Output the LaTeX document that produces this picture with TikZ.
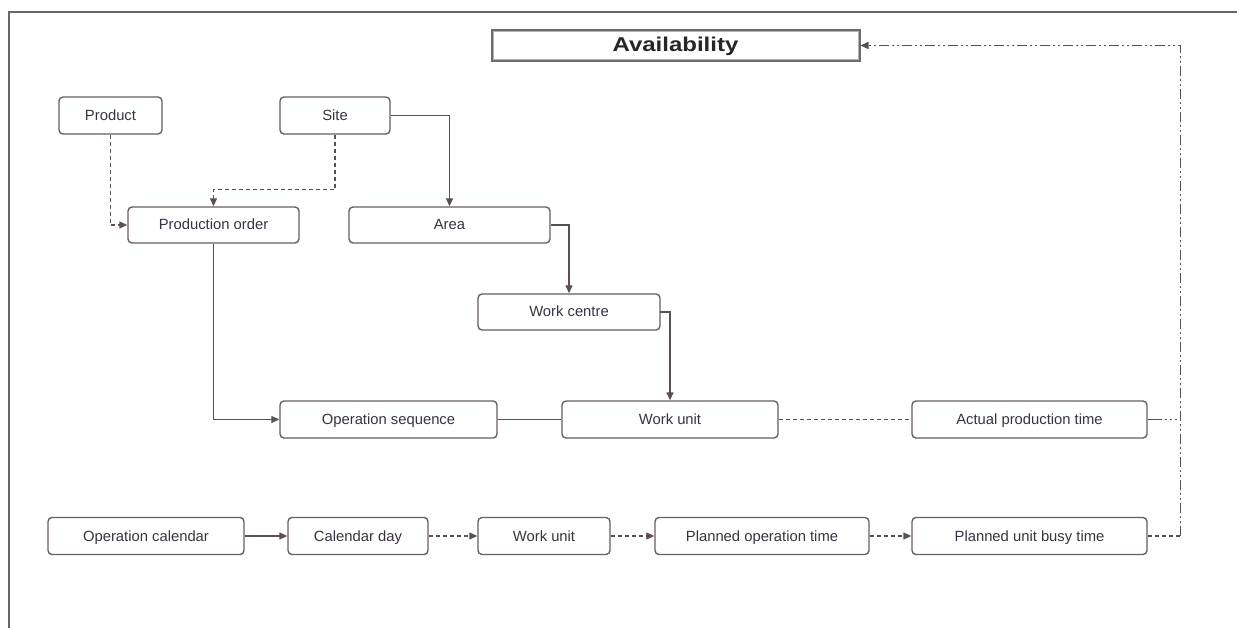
\documentclass[tikz,border=0pt]{standalone}
\usepackage{fontspec}
\setmainfont{Liberation Sans}
\usetikzlibrary{arrows.meta,calc}
\definecolor{edge}{HTML}{6A5E5E}
\definecolor{ink}{HTML}{3A3242}
\begin{document}
\begin{tikzpicture}[x=1pt,y=-1pt,
  box/.style={draw=edge,line width=1.4pt,rounded corners=4pt,fill=white,
    text=ink,font=\fontsize{14.8}{17}\selectfont,inner sep=0pt,anchor=center,
    text height=12pt,text depth=2pt},
  link/.style={draw=edge!85!black,line width=1.3pt},
  arr/.style={link,-{Triangle[length=8pt,width=7pt]}},
  dsh/.style={dash pattern=on 4pt off 3pt},
  ddot/.style={dash pattern=on 10pt off 3pt on 2pt off 3pt on 2pt off 3pt}]
\useasboundingbox (0,0) rectangle (1237,628);
% frame
\draw[gray!80!black,line width=1.5pt] (9,628) -- (9,12) -- (1237,12);

% availability header
\node[draw=gray!85!black,line width=3pt,fill=white,minimum width=367pt,minimum height=30pt,
  font=\fontsize{20}{22}\selectfont\bfseries,text=black!85,text height=15pt,text depth=2pt]
  (avail) at (675.5,45.5) {\scalebox{1.2}[1]{Availability}};
\draw[gray!60,line width=0.6pt] ($(avail.south west)+(2.5,-2.5)$) rectangle ($(avail.north east)+(-2.5,2.5)$);

% nodes
\node[box,minimum width=103pt,minimum height=37pt] (product) at (110.5,115.5) {Product};
\node[box,minimum width=110pt,minimum height=37pt] (site) at (335,115.5) {Site};
\node[box,minimum width=171pt,minimum height=36pt] (porder) at (213.5,225) {Production order};
\node[box,minimum width=201pt,minimum height=36pt] (area) at (449.5,225) {Area};
\node[box,minimum width=182pt,minimum height=36pt] (wcentre) at (569,312) {Work centre};
\node[box,minimum width=217pt,minimum height=37pt] (opseq) at (388.5,419.5) {Operation sequence};
\node[box,minimum width=216pt,minimum height=37pt] (wunit) at (670,419.5) {Work unit};
\node[box,minimum width=235pt,minimum height=37pt] (actual) at (1029.5,419.5) {Actual production time};
\node[box,minimum width=196pt,minimum height=37pt] (opcal) at (146,536) {Operation calendar};
\node[box,minimum width=140pt,minimum height=37pt] (calday) at (358,536) {Calendar day};
\node[box,minimum width=132pt,minimum height=37pt] (wunitb) at (544,536) {Work unit};
\node[box,minimum width=214pt,minimum height=37pt] (planop) at (762,536) {Planned operation time};
\node[box,minimum width=235pt,minimum height=37pt] (planbusy) at (1029.5,536) {Planned unit busy time};

\coordinate (rail) at (1180,419.5);

% connectors
\draw[arr,dsh] (product.south) |- (porder.west);
\draw[arr,dsh] (site.south) -- ++(0,55) -| (porder.north);
\draw[arr] (site.east) -| (area.north);
\draw[arr] (area.east) -| (wcentre.north);
\draw[arr] ([xshift=-0.5pt]wcentre.east) -| (wunit.north);
\draw[arr] (porder.south) |- (opseq.west);
\draw[link] (opseq.east) -- (wunit.west);
\draw[link,dsh] (wunit.east) -- (actual.west);
\draw[link] (actual.east) -- ++(12,0) coordinate (a1);
\draw[link,line width=1pt,dash pattern=on 2pt off 3pt] (a1) -- (rail);
\draw[link,dsh] (planbusy.east) -- ++(33,0) coordinate (b1);
\draw[arr,ddot,line width=1.4pt] (b1) |- (avail.east);
\draw[arr] (opcal.east) -- (calday.west);
\draw[arr,dsh] (calday.east) -- (wunitb.west);
\draw[arr,dsh] (wunitb.east) -- (planop.west);
\draw[arr,dsh] (planop.east) -- (planbusy.west);
\end{tikzpicture}
\end{document}
